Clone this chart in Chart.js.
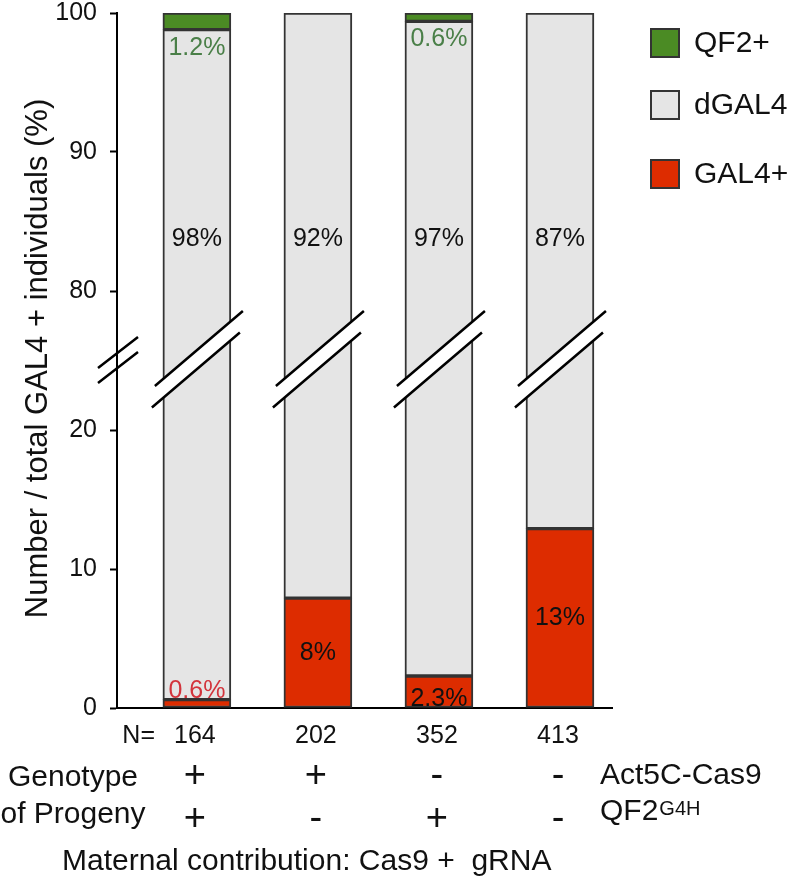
<!DOCTYPE html>
<html><head><meta charset="utf-8">
<script src="https://cdn.jsdelivr.net/npm/chart.js@4/dist/chart.umd.min.js"></script>
<style>html,body{margin:0;padding:0;background:#fff}#wrap{width:793px;height:890px;position:relative}canvas{display:block}</style>
</head><body><div id="wrap"><canvas id="c" width="793" height="890"></canvas></div>
<script>
// ---------- data ----------
const nValues = [164, 202, 352, 413];
const gal4Pct = [0.6, 7.9, 2.3, 12.9];      // GAL4+
const dgal4Pct = [98.2, 92.1, 97.1, 87.1];  // dGAL4
const qf2Pct = [1.2, 0, 0.6, 0];            // QF2+
const gal4Labels = ['0.6%', '8%', '2.3%', '13%'];
const dgal4Labels = ['98%', '92%', '97%', '87%'];
const qf2Labels = ['1.2%', '', '0.6%', ''];
const act5cRow = ['+', '+', '-', '-'];
const qf2g4hRow = ['+', '-', '+', '-'];
const yTickValues = [0, 10, 20, 80, 90, 100];
const seriesNames = ['GAL4+', 'dGAL4', 'QF2+'];
const seriesColors = ['#dd2c00', '#e5e5e5', '#4b8b24'];

// ---------- broken axis mapping ----------
const BREAK_LOW = 20, BREAK_HIGH = 80, BREAK_GAP = 10;
function toAxis(v) { return v <= BREAK_LOW ? v : v - (BREAK_HIGH - BREAK_LOW) + BREAK_GAP; }
function fromAxis(a) { return a <= BREAK_LOW ? a : a + (BREAK_HIGH - BREAK_LOW) - BREAK_GAP; }
const BREAK_AXIS = BREAK_LOW + BREAK_GAP / 2;

const gal4Seg = gal4Pct.map(v => toAxis(v));
const dgal4Seg = dgal4Pct.map((v, i) => toAxis(gal4Pct[i] + v) - toAxis(gal4Pct[i]));
const qf2Seg = qf2Pct.map((v, i) => toAxis(gal4Pct[i] + dgal4Pct[i] + v) - toAxis(gal4Pct[i] + dgal4Pct[i]));
const pts = arr => arr.map((v, i) => ({ x: i, y: v }));

const FONT = '"Liberation Sans", Arial, Helvetica, sans-serif';

function drawSlashPair(ctx, c1x, c1y, c2x, c2y, hx, hy, fillWhite) {
  if (fillWhite) {
    ctx.beginPath();
    ctx.moveTo(c1x - hx, c1y + hy); ctx.lineTo(c1x + hx, c1y - hy);
    ctx.lineTo(c2x + hx, c2y - hy); ctx.lineTo(c2x - hx, c2y + hy);
    ctx.closePath(); ctx.fillStyle = '#fff'; ctx.fill();
  }
  ctx.strokeStyle = '#000'; ctx.lineWidth = 2.5;
  ctx.beginPath();
  ctx.moveTo(c1x - hx, c1y + hy); ctx.lineTo(c1x + hx, c1y - hy);
  ctx.moveTo(c2x - hx, c2y + hy); ctx.lineTo(c2x + hx, c2y - hy);
  ctx.stroke();
}

const overlay = {
  id: 'overlay',
  afterDatasetsDraw(chart) {
    const { ctx, scales: { x, y } } = chart;
    const by = y.getPixelForValue(BREAK_AXIS);
    ctx.save();
    nValues.forEach((n, i) => {
      const cx = x.getPixelForValue(i);
      drawSlashPair(ctx, cx + 2, by - 12, cx - 1, by + 9.5, 44, 37.5, true);
    });
    ctx.restore();
  },
  afterDraw(chart) {
    const { ctx, scales: { x, y }, chartArea } = chart;
    ctx.save();
    // axis break on y axis
    const by = y.getPixelForValue(BREAK_AXIS);
    drawSlashPair(ctx, chartArea.left + 1, by - 8, chartArea.left + 1, by + 7, 20, 15.5, false);

    // value labels
    ctx.textAlign = 'center';
    const midY = y.getPixelForValue(toAxis(83.7));
    nValues.forEach((n, i) => {
      const cx = x.getPixelForValue(i);
      ctx.font = '25px ' + FONT;
      // dGAL4
      ctx.fillStyle = '#111'; ctx.textBaseline = 'middle';
      ctx.fillText(dgal4Labels[i], cx, midY);
      // GAL4+
      const g0 = y.getPixelForValue(0), g1 = y.getPixelForValue(gal4Seg[i]);
      const h = g0 - g1;
      ctx.textBaseline = 'alphabetic';
      if (h < 14) { ctx.fillStyle = '#d3343c'; ctx.fillText(gal4Labels[i], cx, g1 - 2); }
      else if (h < 45) { ctx.fillStyle = '#111'; ctx.fillText(gal4Labels[i], cx, g0 - 2); }
      else { ctx.fillStyle = '#111'; ctx.textBaseline = 'middle'; ctx.fillText(gal4Labels[i], cx, (g0 + g1) / 2); }
      // QF2+
      if (qf2Labels[i]) {
        const qb = y.getPixelForValue(toAxis(gal4Pct[i] + dgal4Pct[i]));
        ctx.fillStyle = '#4a7f48'; ctx.textBaseline = 'alphabetic';
        ctx.fillText(qf2Labels[i], cx, qb + 25);
      }
      // N values
      ctx.fillStyle = '#111'; ctx.textBaseline = 'alphabetic';
      ctx.fillText(String(n), cx - 2, 743);
      // genotype symbols
      ctx.font = '38px ' + FONT;
      ctx.fillText(act5cRow[i], cx - 2, 787);
      ctx.fillText(qf2g4hRow[i], cx - 2, 830);
    });
    ctx.font = '25px ' + FONT;
    ctx.textAlign = 'right'; ctx.fillStyle = '#111';
    ctx.fillText('N=', 155, 743);

    ctx.font = '30px ' + FONT; ctx.textAlign = 'center';
    ctx.fillText('Genotype', 73, 786);
    ctx.fillText('of Progeny', 73, 823);
    ctx.textAlign = 'left';
    ctx.fillText('Act5C-Cas9', 600, 784);
    ctx.fillText('QF2', 600, 820);
    const w = ctx.measureText('QF2').width;
    ctx.font = '20px ' + FONT;
    ctx.fillText('G4H', 600 + w + 1, 815);
    ctx.font = '30px ' + FONT;
    ctx.fillText('Maternal contribution: Cas9 +  gRNA', 62, 870);

    // y title
    ctx.save();
    ctx.translate(38, (chartArea.top + chartArea.bottom) / 2 - 2);
    ctx.rotate(-Math.PI / 2);
    ctx.textAlign = 'center'; ctx.textBaseline = 'middle';
    ctx.font = '31px ' + FONT;
    ctx.fillText('Number / total GAL4 + individuals (%)', 0, 0);
    ctx.restore();

    // legend (top to bottom: QF2+, dGAL4, GAL4+)
    const legendOrder = [2, 1, 0];
    const legendTops = [28, 90, 159];
    legendOrder.forEach((di, k) => {
      const top = legendTops[k];
      ctx.fillStyle = seriesColors[di];
      ctx.fillRect(650, top, 30, 30);
      ctx.strokeStyle = '#333'; ctx.lineWidth = 2;
      ctx.strokeRect(651, top + 1, 28, 28);
      ctx.fillStyle = '#111'; ctx.font = '30px ' + FONT;
      ctx.textAlign = 'left'; ctx.textBaseline = 'middle';
      ctx.fillText(seriesNames[di], 694, top + 16);
    });
    ctx.restore();
  }
};

const segs = [gal4Seg, dgal4Seg, qf2Seg];
new Chart(document.getElementById('c'), {
  type: 'bar',
  data: {
    datasets: seriesNames.map((name, k) => ({
      label: name,
      data: pts(segs[k]),
      backgroundColor: seriesColors[k],
      borderColor: '#333',
      borderWidth: 2,
      borderSkipped: false,
      barThickness: 68
    }))
  },
  options: {
    responsive: false,
    animation: false,
    devicePixelRatio: 1,
    layout: { padding: { top: 0, right: 181, bottom: 182, left: 0 } },
    plugins: { legend: { display: false }, tooltip: { enabled: false } },
    scales: {
      x: {
        type: 'linear', min: -0.66, max: 3.43, stacked: true, offset: false,
        ticks: { display: false },
        grid: { drawOnChartArea: false, drawTicks: false, offset: false },
        border: { display: true, color: '#000', width: 2 },
        afterFit(s) { s.height = 0; s.paddingLeft = 0; s.paddingRight = 0; }
      },
      y: {
        type: 'linear', min: 0, max: toAxis(100), stacked: true,
        afterBuildTicks(s) { s.ticks = yTickValues.map(v => ({ value: toAxis(v) })); },
        ticks: {
          callback: v => String(fromAxis(v)),
          color: '#111', font: { family: FONT, size: 25 }, padding: 13
        },
        grid: { drawOnChartArea: false, drawTicks: true, tickLength: 7, tickWidth: 2, tickColor: '#000' },
        border: { display: true, color: '#000', width: 2 },
        afterFit(s) { s.width = 117; s.paddingTop = 13; s.paddingBottom = 0; }
      }
    }
  },
  plugins: [overlay]
});
</script></body></html>
